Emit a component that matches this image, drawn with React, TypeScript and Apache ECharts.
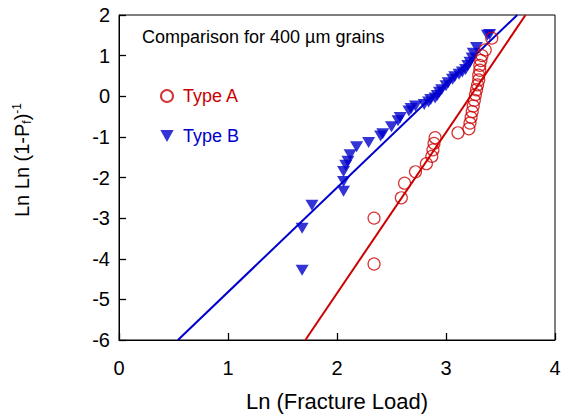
import React, { useEffect, useRef } from "react";
import * as echarts from "echarts";

const xTicks = [0, 1, 2, 3, 4];
const yTicks = [-6, -5, -4, -3, -2, -1, 0, 1, 2];

const typeA: [number, number][] = [
  [2.34, -4.13], [2.34, -3.0], [2.59, -2.5], [2.62, -2.14], [2.72, -1.86],
  [2.82, -1.66], [2.87, -1.48], [2.88, -1.32], [2.89, -1.16], [2.9, -1.02],
  [3.11, -0.9], [3.21, -0.8], [3.22, -0.66], [3.23, -0.52], [3.24, -0.38],
  [3.25, -0.24], [3.26, -0.1], [3.27, 0.04], [3.28, 0.16], [3.29, 0.28],
  [3.3, 0.4], [3.3, 0.52], [3.31, 0.64], [3.31, 0.76], [3.32, 0.88],
  [3.33, 1.0], [3.36, 1.14], [3.42, 1.43],
];

const typeB: [number, number][] = [
  [1.68, -4.28], [1.68, -3.25], [1.77, -2.68], [2.06, -2.34], [2.06, -2.1],
  [2.06, -1.85], [2.08, -1.7], [2.1, -1.6], [2.12, -1.44], [2.18, -1.24],
  [2.29, -1.14], [2.4, -0.98], [2.42, -0.92], [2.5, -0.75], [2.56, -0.6],
  [2.58, -0.52], [2.66, -0.36], [2.68, -0.3], [2.72, -0.24], [2.8, -0.2],
  [2.84, -0.14], [2.86, -0.08], [2.9, -0.04], [2.92, 0.02], [2.94, 0.1],
  [2.96, 0.16], [3.0, 0.26], [3.02, 0.33], [3.06, 0.42], [3.08, 0.48],
  [3.12, 0.54], [3.15, 0.6], [3.18, 0.66], [3.2, 0.76], [3.22, 0.84],
  [3.24, 0.94], [3.25, 1.06], [3.28, 1.2], [3.38, 1.5], [3.4, 1.52],
];

// fitted Weibull lines: y = slope * x + intercept
const fitA = { slope: 3.96, intercept: -12.77 };
const fitB = { slope: 2.57, intercept: -7.39 };

const RED = "#cc0000";
const BLUE = "#0000cc";
const FONT = "Liberation Sans, Arial, Helvetica, sans-serif";

function fitLine(fit: { slope: number; intercept: number }, yMin: number, yMax: number) {
  return [
    [(yMin - fit.intercept) / fit.slope, yMin],
    [(yMax - fit.intercept) / fit.slope, yMax],
  ];
}

export default function App() {
  const ref = useRef<HTMLDivElement>(null);
  useEffect(() => {
    if (!ref.current) return;
    const chart = echarts.init(ref.current, null, { renderer: "svg" });
    const xMin = xTicks[0];
    const xMax = xTicks[xTicks.length - 1];
    const yMin = yTicks[0];
    const yMax = yTicks[yTicks.length - 1];
    const tick = {
      show: true,
      inside: true,
      length: 7,
      lineStyle: { color: "#000", width: 1.3 },
    };
    chart.setOption({
      animation: false,
      backgroundColor: "#fff",
      textStyle: { fontFamily: FONT },
      grid: {
        left: 119,
        right: 11,
        top: 15,
        bottom: 76,
        show: true,
        borderColor: "#000",
        borderWidth: 1,
      },
      xAxis: {
        type: "value",
        min: xMin,
        max: xMax,
        interval: 1,
        name: "Ln (Fracture Load)",
        nameLocation: "middle",
        nameGap: 50,
        nameTextStyle: { color: "#000", fontSize: 22, fontFamily: FONT },
        axisLine: { show: true, onZero: false, lineStyle: { color: "#000", width: 1 } },
        axisTick: tick,
        axisLabel: { color: "#000", fontSize: 20, margin: 18, fontFamily: FONT },
        splitLine: { show: false },
      },
      yAxis: {
        type: "value",
        min: yMin,
        max: yMax,
        interval: 1,
        axisLine: { show: true, onZero: false, lineStyle: { color: "#000", width: 1 } },
        axisTick: tick,
        axisLabel: { color: "#000", fontSize: 20, margin: 9, fontFamily: FONT },
        splitLine: { show: false },
      },
      legend: {
        orient: "vertical",
        left: 155,
        top: 82,
        itemGap: 22,
        itemWidth: 16,
        itemHeight: 12,
        textStyle: { fontSize: 18, fontFamily: FONT, padding: [0, 0, 0, 3] },
        data: [
          { name: "Type A", textStyle: { color: RED } },
          { name: "Type B", icon: "path://M0,0 L10,0 L5,9 Z", textStyle: { color: BLUE } },
        ],
      },
      graphic: [
        {
          type: "text",
          left: 142,
          top: 28,
          style: {
            text: "Comparison for 400 µm grains",
            fill: "#000",
            font: `18px ${FONT}`,
          },
        },
        {
          type: "text",
          x: 22,
          y: 160,
          rotation: Math.PI / 2,
          style: {
            text: "Ln Ln (1-P{sub|f}){sup|-1}",
            fill: "#000",
            font: `20px ${FONT}`,
            align: "center",
            verticalAlign: "middle",
            rich: {
              sub: { fontSize: 12, fontFamily: FONT, fill: "#000", padding: [10, 0, 0, 0] },
              sup: { fontSize: 12, fontFamily: FONT, fill: "#000", padding: [0, 0, 10, 0] },
            },
          },
        },
      ],
      series: [
        {
          name: "Fit A",
          type: "line",
          data: fitLine(fitA, yMin, yMax),
          showSymbol: false,
          lineStyle: { color: RED, width: 2 },
          silent: true,
          z: 1,
        },
        {
          name: "Fit B",
          type: "line",
          data: fitLine(fitB, yMin, yMax),
          showSymbol: false,
          lineStyle: { color: BLUE, width: 2 },
          silent: true,
          z: 1,
        },
        {
          name: "Type A",
          type: "scatter",
          data: typeA,
          symbol: "circle",
          symbolSize: 12,
          itemStyle: { color: "rgba(0,0,0,0)", borderColor: RED, borderWidth: 1.2 },
          z: 3,
        },
        {
          name: "Type B",
          type: "scatter",
          data: typeB,
          symbol: "triangle",
          symbolRotate: 180,
          symbolSize: [13, 11],
          itemStyle: { color: BLUE },
          z: 2,
        },
      ],
    });
    return () => chart.dispose();
  }, []);
  return (
    <div
      ref={ref}
      style={{ position: "fixed", left: 0, top: 0, width: 566, height: 417 }}
    />
  );
}
